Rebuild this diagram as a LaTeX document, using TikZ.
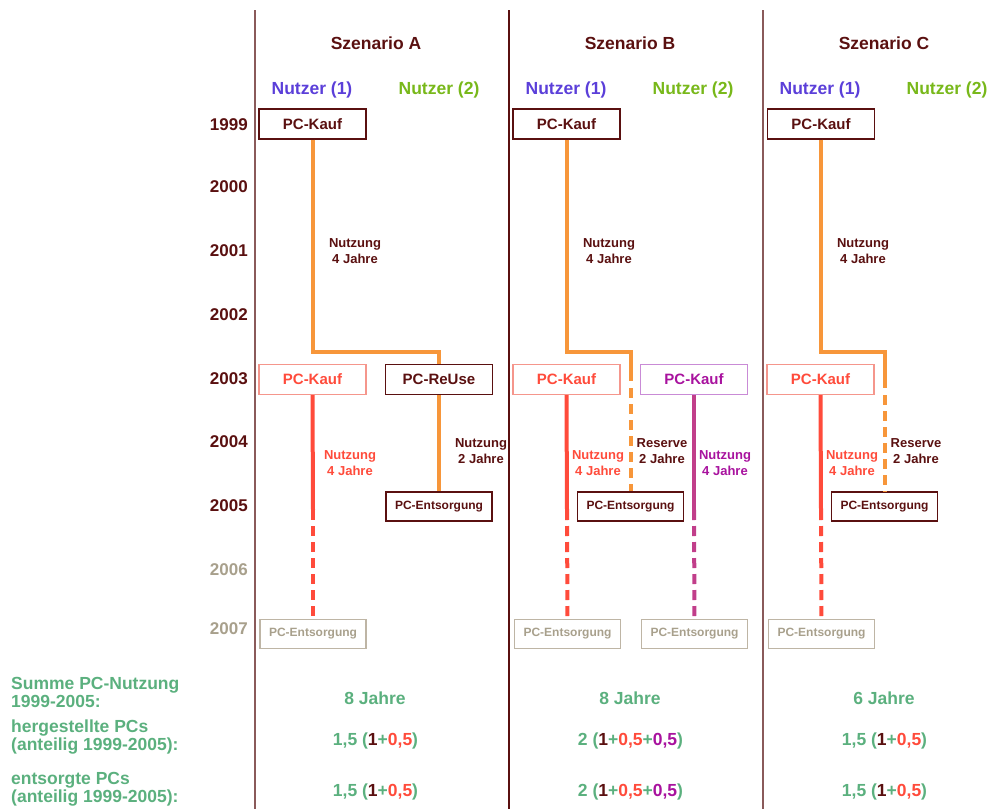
\documentclass[tikz,border=0pt]{standalone}
\usepackage{fontspec}
\setmainfont{Liberation Sans}
\definecolor{dbrown}{HTML}{5A1010}
\definecolor{divc}{HTML}{8A5A5A}
\definecolor{orng}{HTML}{F7963A}
\definecolor{redt}{HTML}{FF4B3B}
\definecolor{redb}{HTML}{F5968C}
\definecolor{redl}{HTML}{FF4B3B}
\definecolor{purt}{HTML}{A8129E}
\definecolor{purb}{HTML}{C98BD6}
\definecolor{purl}{HTML}{C13E8A}
\definecolor{grayt}{HTML}{A8A08C}
\definecolor{grayb}{HTML}{BEB5A5}
\definecolor{bluec}{HTML}{5B3FD9}
\definecolor{greenc}{HTML}{78B81A}
\definecolor{tealc}{HTML}{5BB07E}
\tikzset{
  bx/.style={draw=dbrown, text=dbrown, line width=1.2pt, minimum width=107pt, minimum height=30pt, inner sep=0pt, font=\fontsize{15}{15}\selectfont\bfseries},
  rkauf/.style={bx, draw=redb, text=redt},
  pkauf/.style={bx, draw=purb, text=purt},
  ents/.style={bx, font=\fontsize{12}{12}\selectfont\bfseries, minimum width=106pt, minimum height=29pt},
  gents/.style={ents, draw=grayb, text=grayt},
  lbl/.style={align=center, font=\fontsize{13}{16}\selectfont\bfseries, text=dbrown, inner sep=0pt},
  hdr/.style={font=\fontsize{17.5}{18}\selectfont\bfseries, text=dbrown, inner sep=0pt},
  nutz/.style={font=\fontsize{17.5}{18}\selectfont\bfseries, inner sep=0pt},
  yr/.style={font=\fontsize{17}{17}\selectfont\bfseries, text=dbrown, anchor=east, inner sep=0pt},
  sumlbl/.style={font=\fontsize{17.5}{18}\selectfont\bfseries, text=tealc, anchor=west, align=left, inner sep=0pt},
  val/.style={font=\fontsize{17.5}{18}\selectfont\bfseries, text=tealc, inner sep=0pt},
  oline/.style={draw=orng, line width=4pt},
  rline/.style={draw=redl, line width=4pt},
  pline/.style={draw=purl, line width=4pt},
  dsh/.style={dash pattern=on 10pt off 6pt},
  divl/.style={line width=1.3pt}
}
\begin{document}
\begin{tikzpicture}[x=1pt,y=-1pt]
\useasboundingbox (0,0) rectangle (997,809);
% dividers
\draw[divl, draw=divc] (255,10) -- (255,809);
\draw[divl, draw=dbrown] (509,10) -- (509,809);
\draw[divl, draw=divc] (763,10) -- (763,809);
% headers
\node[hdr] (hA) at (376,43) {Szenario A};
\node[hdr] (hB) at (630,43) {Szenario B};
\node[hdr] (hC) at (884,43) {Szenario C};
\node[nutz, text=bluec] (nA1) at (312,90) {Nutzer (1)};
\node[nutz, text=greenc] (nA2) at (439,90) {Nutzer (2)};
\node[nutz, text=bluec] (nB1) at (566,90) {Nutzer (1)};
\node[nutz, text=greenc] (nB2) at (693,90) {Nutzer (2)};
\node[nutz, text=bluec] (nC1) at (820,90) {Nutzer (1)};
\node[nutz, text=greenc] (nC2) at (947,90) {Nutzer (2)};
% years
\node[yr] (y1999) at (248,125) {1999};
\node[yr] (y2000) at (248,187) {2000};
\node[yr] (y2001) at (248,251) {2001};
\node[yr] (y2002) at (248,315) {2002};
\node[yr] (y2003) at (248,379) {2003};
\node[yr] (y2004) at (248,442) {2004};
\node[yr] (y2005) at (248,506) {2005};
\node[yr, text=grayt] (y2006) at (248,570) {2006};
\node[yr, text=grayt] (y2007) at (248,629) {2007};

% ===== Scenario A =====
\node[bx] (kA1) at (312.5,124) {PC-Kauf};
\node[rkauf] (kA2) at (312.5,379.5) {PC-Kauf};
\node[bx] (rA) at (439,379.5) {PC-ReUse};
\node[ents] (eA1) at (439,506.5) {PC-Entsorgung};
\node[gents] (eA2) at (313,634) {PC-Entsorgung};
\coordinate (bA) at (312.5,352);
\coordinate (sA) at (313,510);
\draw[oline] (kA1.south) -- (bA) -| (rA.north);
\draw[oline] (rA.south) -- (eA1.north);
\draw[rline] (kA2.south) -- (sA);
\draw[rline, dsh] (sA) -- (eA2.north);
\node[lbl] (lA1) at (355,251) {Nutzung\\4 Jahre};
\node[lbl, text=redt] (lA2) at (350,463) {Nutzung\\4 Jahre};
\node[lbl] (lA3) at (481,451) {Nutzung\\2 Jahre};

% ===== Scenario B =====
\node[bx] (kB1) at (566.5,124) {PC-Kauf};
\node[rkauf] (kB2) at (566.5,379.5) {PC-Kauf};
\node[pkauf] (kB3) at (694,379.5) {PC-Kauf};
\node[ents] (eB1) at (630.5,506.5) {PC-Entsorgung};
\node[gents] (eB2) at (567.5,634) {PC-Entsorgung};
\node[gents] (eB3) at (694.5,634) {PC-Entsorgung};
\coordinate (bB) at (566.5,352);
\coordinate (cB) at (630.5,381);
\coordinate (dB) at (630.5,388);
\coordinate (sB) at (567,510);
\coordinate (pB) at (694,510);
\draw[oline] (kB1.south) -- (bB) -| (cB);
\draw[oline, dsh] (dB) -- (eB1.north);
\draw[rline] (kB2.south) -- (sB);
\draw[rline, dsh] (sB) -- (eB2.north);
\draw[pline] (kB3.south) -- (pB);
\draw[pline, dsh] (pB) -- (eB3.north);
\node[lbl] (lB1) at (609,251) {Nutzung\\4 Jahre};
\node[lbl, text=redt] (lB2) at (598,463) {Nutzung\\4 Jahre};
\node[lbl] (lB3) at (662,451) {Reserve\\2 Jahre};
\node[lbl, text=purt] (lB4) at (725,463) {Nutzung\\4 Jahre};

% ===== Scenario C =====
\node[bx] (kC1) at (821,124) {PC-Kauf};
\node[rkauf] (kC2) at (820.5,379.5) {PC-Kauf};
\node[ents] (eC1) at (884.5,506.5) {PC-Entsorgung};
\node[gents] (eC2) at (821.5,634) {PC-Entsorgung};
\coordinate (bC) at (821,352);
\coordinate (cC) at (884.5,388);
\coordinate (dC) at (884.5,395);
\coordinate (sC) at (821,510);
\draw[oline] (kC1.south) -- (bC) -| (cC);
\draw[oline, dsh] (dC) -- (eC1.north);
\draw[rline] (kC2.south) -- (sC);
\draw[rline, dsh] (sC) -- (eC2.north);
\node[lbl] (lC1) at (863,251) {Nutzung\\4 Jahre};
\node[lbl, text=redt] (lC2) at (852,463) {Nutzung\\4 Jahre};
\node[lbl] (lC3) at (916,451) {Reserve\\2 Jahre};

% ===== Summary =====
\node[sumlbl] (s1) at (11,692) {Summe PC-Nutzung\\1999-2005:};
\node[sumlbl] (s2) at (11,737) {hergestellte PCs\\(anteilig 1999-2005):};
\node[sumlbl] (s3) at (11,789.5) {entsorgte PCs\\(anteilig 1999-2005):};
\node[val] (vA1) at (375,698) {8 Jahre};
\node[val] (vB1) at (630,698) {8 Jahre};
\node[val] (vC1) at (884,698) {6 Jahre};
\node[val] (vA2) at (375.5,741) {1,5 (\textcolor{dbrown}{1}+\textcolor{redt}{0,5})};
\node[val] (vB2) at (630.5,741) {2 (\textcolor{dbrown}{1}+\textcolor{redt}{0,5}+\textcolor{purt}{0,5})};
\node[val] (vC2) at (884.5,741) {1,5 (\textcolor{dbrown}{1}+\textcolor{redt}{0,5})};
\node[val] (vA3) at (375.5,792) {1,5 (\textcolor{dbrown}{1}+\textcolor{redt}{0,5})};
\node[val] (vB3) at (630.5,792) {2 (\textcolor{dbrown}{1}+\textcolor{redt}{0,5}+\textcolor{purt}{0,5})};
\node[val] (vC3) at (884.5,792) {1,5 (\textcolor{dbrown}{1}+\textcolor{redt}{0,5})};
\end{tikzpicture}
\end{document}
